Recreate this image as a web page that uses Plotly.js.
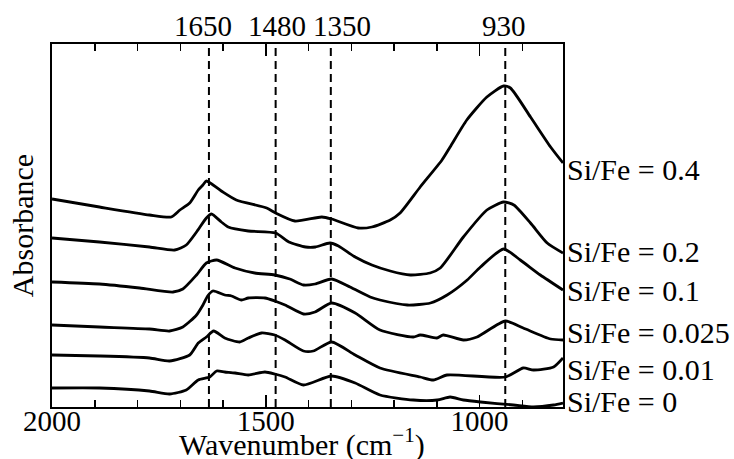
<!DOCTYPE html>
<html>
<head>
<meta charset="utf-8">
<script src="https://cdn.plot.ly/plotly-3.0.1.min.js"></script>
<style>html,body{margin:0;padding:0;background:#fff;}#chart{width:734px;height:459px;}</style>
</head>
<body>
<div id="chart"></div>
<script>
// Wavenumber samples (cm^-1) and offset absorbance values
const wn04 = [2000,1889,1772,1721,1701,1678,1658,1647,1639,1604,1569,1498,1477,1432,1369,1346,1284,1252,1209,1186,1139,1088,1069,1030,983,944,928,881,834,805];
const abs04 = [2.08,2.00,1.92,1.90,1.97,2.04,2.17,2.22,2.26,2.16,2.07,1.99,1.94,1.86,1.90,1.88,1.79,1.80,1.87,1.94,2.20,2.47,2.60,2.87,3.10,3.21,3.19,2.90,2.60,2.44];

const wn02 = [2000,1889,1772,1713,1686,1662,1639,1627,1604,1588,1541,1477,1446,1407,1384,1350,1330,1291,1252,1209,1162,1116,1092,1038,983,944,920,881,842,805];
const abs02 = [1.69,1.65,1.60,1.57,1.62,1.75,1.89,1.93,1.85,1.80,1.76,1.74,1.65,1.60,1.60,1.64,1.61,1.50,1.42,1.36,1.32,1.34,1.39,1.70,1.97,2.05,2.02,1.84,1.64,1.54];

const wn01 = [2000,1889,1795,1717,1694,1662,1639,1615,1572,1526,1479,1444,1412,1385,1346,1303,1256,1233,1169,1115,1076,1029,998,944,905,858,805];
const abs01 = [1.25,1.23,1.19,1.15,1.18,1.32,1.44,1.47,1.39,1.34,1.32,1.28,1.22,1.23,1.28,1.20,1.10,1.07,1.02,1.04,1.12,1.27,1.40,1.58,1.47,1.32,1.17];

const wn0025 = [2000,1889,1772,1725,1694,1662,1647,1636,1624,1596,1580,1557,1541,1502,1479,1455,1412,1385,1346,1291,1233,1155,1139,1100,1085,1038,1006,940,898,834,805];
const abs0025 = [0.82,0.80,0.78,0.76,0.80,0.92,1.02,1.11,1.16,1.12,1.11,1.07,1.09,1.09,1.06,1.02,0.93,0.95,1.04,0.94,0.77,0.70,0.72,0.69,0.72,0.67,0.70,0.86,0.79,0.68,0.67];

const wn001 = [2000,1889,1772,1725,1678,1658,1639,1622,1596,1561,1541,1510,1479,1455,1412,1389,1346,1291,1233,1139,1108,1076,940,898,874,827,805];
const abs001 = [0.52,0.51,0.49,0.46,0.52,0.64,0.70,0.76,0.69,0.65,0.69,0.74,0.72,0.67,0.56,0.56,0.65,0.52,0.39,0.30,0.27,0.32,0.30,0.39,0.37,0.40,0.49];

const wn0 = [2000,1889,1772,1725,1686,1658,1631,1615,1596,1572,1541,1502,1479,1455,1412,1346,1291,1233,1155,1099,1069,1038,998,921,874,827,805];
const abs0 = [0.19,0.19,0.16,0.13,0.17,0.27,0.30,0.36,0.35,0.34,0.32,0.35,0.33,0.30,0.22,0.31,0.24,0.12,0.07,0.07,0.10,0.07,0.05,0.02,0.00,0.02,0.04];

const seriesNames = ["Si/Fe = 0.4","Si/Fe = 0.2","Si/Fe = 0.1","Si/Fe = 0.025","Si/Fe = 0.01","Si/Fe = 0"];
const labelY = [2.38,1.56,1.17,0.75,0.38,0.06];

// Marked band positions (dashed lines) and their labels
const bandPos = [1633,1477,1348,940];
const bandLabelPos = [1647,1475,1322,944];
const bandLabels = ["1650","1480","1350","930"];

const xTickVals = [2000,1500,1000];
const xTickText = ["2000","1500","1000"];
const xTitle = 'Wavenumber (cm<sup>−1</sup>)';
const yTitle = 'Absorbance';

const FONT = 'Liberation Serif, Times New Roman, serif';
const xs = [wn04,wn02,wn01,wn0025,wn001,wn0];
const ys = [abs04,abs02,abs01,abs0025,abs001,abs0];

const traces = xs.map((x,i)=>({
  x:x, y:ys[i], type:'scatter', mode:'lines', name:seriesNames[i],
  line:{color:'#000', width:2.8, shape:'spline', smoothing:0.6},
  hoverinfo:'skip', showlegend:false
}));

const shapes = bandPos.map(p=>({
  type:'line', xref:'x', yref:'paper', x0:p, x1:p, y0:0, y1:1,
  line:{color:'#000', width:2, dash:'8px,5px'}
}));

const annotations = [];
seriesNames.forEach((n,i)=>annotations.push({
  text:n, xref:'paper', yref:'y', x:1, y:labelY[i], xanchor:'left', yanchor:'middle',
  xshift:2, showarrow:false, font:{family:FONT, size:30, color:'#000'}
}));
bandLabels.forEach((t,i)=>annotations.push({
  text:t, xref:'x', yref:'paper', x:bandLabelPos[i], y:1, xanchor:'center', yanchor:'bottom',
  yshift:0, showarrow:false, font:{family:FONT, size:29, color:'#000'}
}));
annotations.push({
  text:xTitle, xref:'paper', yref:'paper', x:0.5, y:0, xanchor:'center', yanchor:'top',
  xshift:-6, yshift:-14, showarrow:false, font:{family:FONT, size:30, color:'#000'}
});

const layout = {
  width:734, height:459,
  margin:{l:52, r:171, t:44, b:52},
  paper_bgcolor:'#fff', plot_bgcolor:'#fff',
  font:{family:FONT, size:29, color:'#000'},
  xaxis:{
    range:[2000,805], tickvals:xTickVals, ticktext:xTickText,
    ticks:'inside', ticklen:12, tickwidth:1.5, tickcolor:'#000',
    ticklabelstandoff:-13,
    minor:{dtick:100, tick0:0, ticks:'inside', ticklen:7, tickwidth:1.5, tickcolor:'#000'},
    showline:true, linecolor:'#000', linewidth:2, mirror:'ticks',
    showgrid:false, zeroline:false, automargin:false,
    tickfont:{family:FONT, size:29, color:'#000'}
  },
  yaxis:{
    range:[0,3.63], showticklabels:false, ticks:'',
    showline:true, linecolor:'#000', linewidth:2, mirror:true,
    showgrid:false, zeroline:false, automargin:false,
    title:{text:yTitle, font:{family:FONT, size:30, color:'#000'}, standoff:8}
  },
  shapes:shapes, annotations:annotations
};

Plotly.newPlot('chart', traces, layout, {staticPlot:true, displayModeBar:false});
</script>
</body>
</html>
